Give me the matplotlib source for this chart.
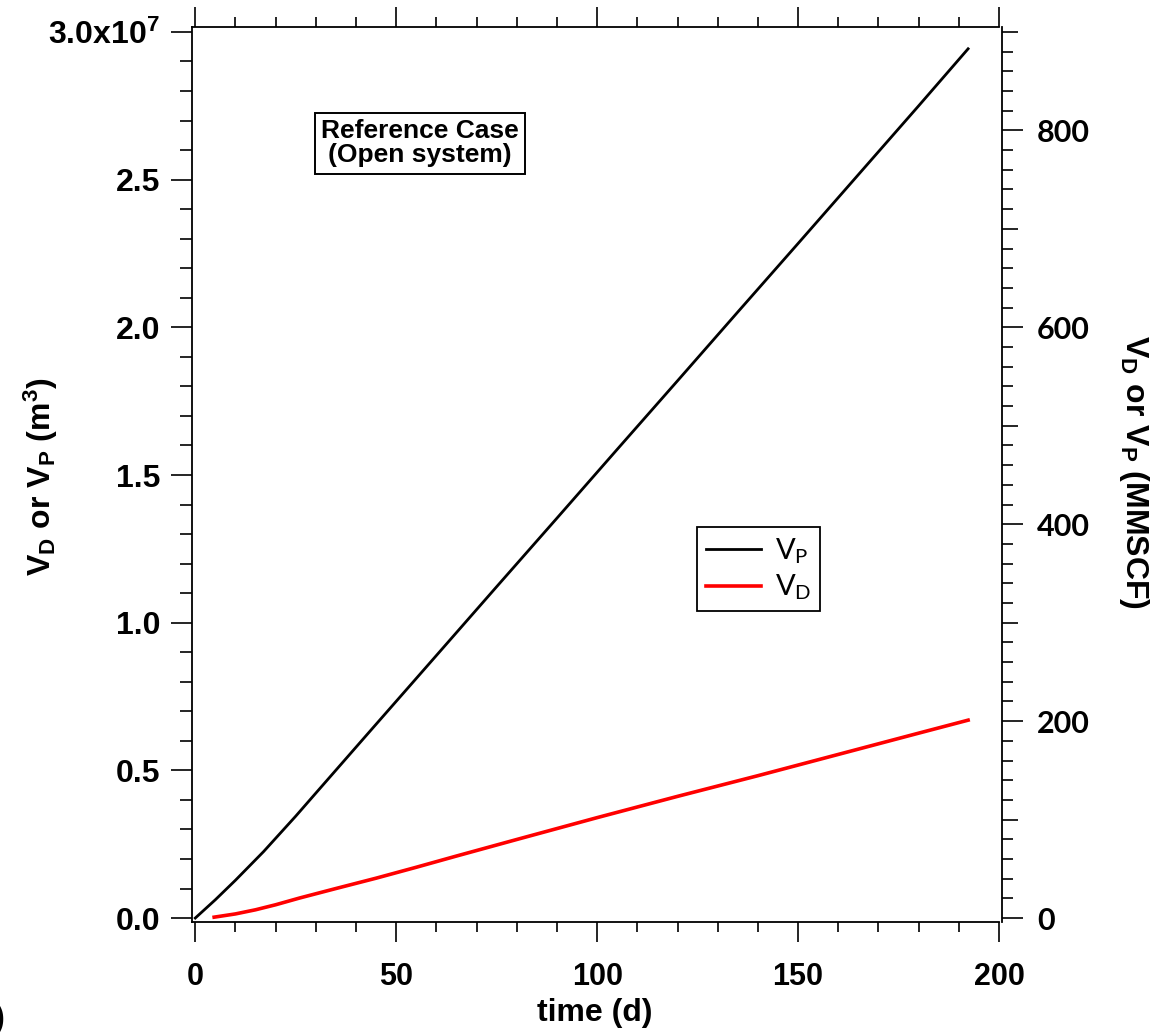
import numpy as np
import matplotlib.pyplot as plt
from matplotlib.ticker import MultipleLocator, FixedLocator, FuncFormatter

plt.rcParams['font.family'] = ['Liberation Sans', 'DejaVu Sans']
plt.rcParams['mathtext.default'] = 'regular'

# cumulative volumes, units of 1e7 m3
t_p = [0, 5, 10, 17, 25, 30, 43.5, 60, 75, 90, 105, 120, 135, 150, 165, 180, 192.3]
v_p = [0, 0.062, 0.128, 0.225, 0.345, 0.423, 0.633, 0.889, 1.122, 1.354, 1.587,
       1.819, 2.052, 2.284, 2.517, 2.750, 2.943]

t_d = [4.7, 10, 15, 20, 26, 35, 45, 55, 65, 80, 100, 120, 140, 160, 180, 192.3]
v_d = [0.003, 0.014, 0.028, 0.045, 0.068, 0.100, 0.135, 0.172, 0.210, 0.266,
       0.340, 0.412, 0.482, 0.554, 0.626, 0.670]

mmscf_per_unit = 300.0   # MMSCF per 1e7 m3

fig = plt.figure(figsize=(11.59, 10.36), dpi=100)
ax = fig.add_axes([0.1657, 0.110, 0.6963, 0.864])

ax.plot(t_p, v_p, color='black', lw=2.0, label='V$_P$')
ax.plot(t_d, v_d, color='red', lw=2.6, label='V$_D$')

ax.set_xlim(-0.8, 200)
ylo, yhi = -0.0135, 3.017
ax.set_ylim(ylo, yhi)

for s in ax.spines.values():
    s.set_linewidth(1.3)
ax.spines['right'].set_visible(False)

ax.xaxis.set_major_locator(MultipleLocator(50))
ax.xaxis.set_minor_locator(MultipleLocator(10))
ax.yaxis.set_major_locator(MultipleLocator(0.5))
ax.yaxis.set_minor_locator(MultipleLocator(0.1))

def left_fmt(v, pos):
    if abs(v - 3.0) < 1e-6:
        return '3.0x10$^7$'
    return f'{v:.1f}'
ax.yaxis.set_major_formatter(FuncFormatter(left_fmt))

ax.tick_params(axis='x', which='both', direction='out', top=True, bottom=True, width=1.2)
ax.tick_params(axis='x', which='major', length=14.5, pad=14, labelsize=22)
ax.tick_params(axis='x', which='minor', length=7.5)
ax.tick_params(axis='y', which='both', direction='out', left=True, right=False, width=1.2)
ax.tick_params(axis='y', which='major', length=15, pad=8, labelsize=23)
ax.tick_params(axis='y', which='minor', length=8.5)
for lab in ax.get_xticklabels() + ax.get_yticklabels():
    lab.set_fontweight('bold')

# right axis in MMSCF
ax2 = ax.twinx()
ax2.set_ylim(ylo * mmscf_per_unit, yhi * mmscf_per_unit)
for k in ['left', 'top', 'bottom']:
    ax2.spines[k].set_visible(False)
ax2.spines['right'].set_position(('outward', 2.2))
ax2.spines['right'].set_linewidth(1.3)
ax2.yaxis.set_major_locator(MultipleLocator(200))
ax2.yaxis.set_minor_locator(FixedLocator([v for v in range(0, 920, 20) if v % 100 != 0]))
ax2.tick_params(axis='y', which='major', direction='out', length=15, width=1.2, pad=10, labelsize=22)
ax2.tick_params(axis='y', which='minor', direction='out', length=8, width=1.2)
for lab in ax2.get_yticklabels():
    lab.set_fontfamily('Lato')
    lab.set_fontweight('bold')

# medium ticks at odd hundreds
ax3 = ax.twinx()
ax3.set_ylim(ax2.get_ylim())
for k in ['left', 'top', 'bottom', 'right']:
    ax3.spines[k].set_visible(False)
ax3.spines['right'].set_position(('outward', 2.2))
ax3.yaxis.set_major_locator(FixedLocator([100, 300, 500, 700, 900]))
ax3.yaxis.set_minor_locator(FixedLocator([]))
ax3.tick_params(axis='y', which='major', direction='out', length=11.5, width=1.2, labelright=False)

ax.text(0.2825, 0.870, 'Reference Case\n(Open system)', transform=ax.transAxes,
        ha='center', va='center', fontsize=19, fontweight='bold', linespacing=1.0,
        bbox=dict(boxstyle='square,pad=0.25', fc='white', ec='black', lw=1.4))

leg = ax.legend(loc='upper left', bbox_to_anchor=(0.626, 0.441), borderaxespad=0,
                fancybox=False, edgecolor='black', framealpha=1,
                prop={'family': 'Lato', 'size': 21}, handlelength=1.9,
                handletextpad=0.45, borderpad=0.3, labelspacing=0.25)
leg.get_frame().set_linewidth(1.3)

fig.text(0.5135, 0.022, 'time (d)', ha='center', va='center', fontsize=23, fontweight='bold')
fig.text(0.035, 0.540, 'V$_D$ or V$_P$ (m$^3$)', ha='center', va='center', rotation=90,
         fontsize=23, fontweight='bold')
fig.text(0.978, 0.544, 'V$_D$ or V$_P$ (MMSCF)', ha='center', va='center', rotation=270,
         fontsize=23, fontweight='bold')
fig.text(0.004, 0.016, 'b)', ha='right', va='center', fontsize=22, fontweight='bold')

fig.savefig('out.png', dpi=100)
